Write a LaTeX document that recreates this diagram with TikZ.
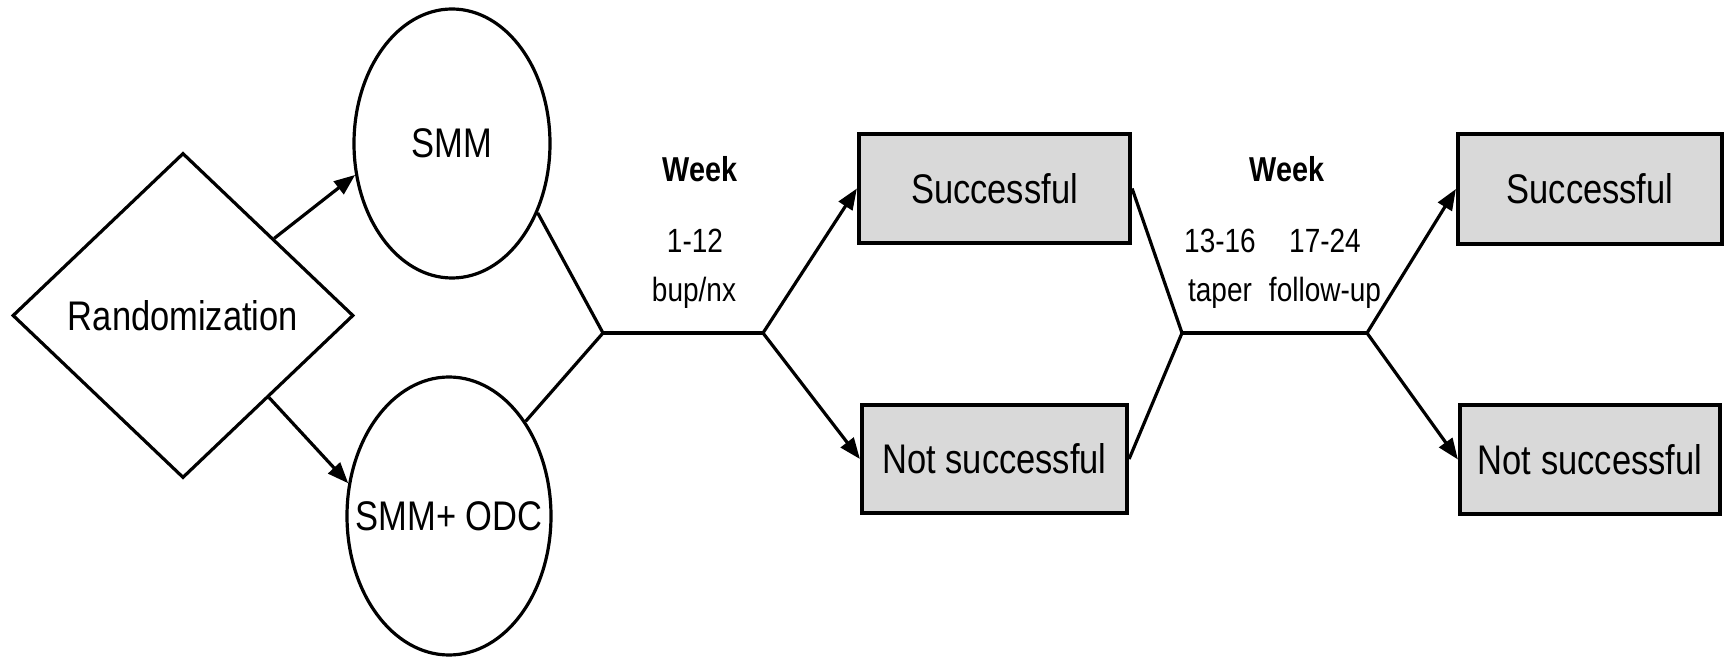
\documentclass[tikz,border=0pt]{standalone}
\usepackage{fontspec}
\setmainfont{Liberation Sans}
\usetikzlibrary{shapes.geometric,arrows.meta,calc}
\definecolor{boxgray}{RGB}{217,217,217}
\newcommand{\vst}[1]{\scalebox{1}[1.2]{#1}}
\newcommand{\zw}[1]{\makebox[0pt]{\scalebox{1}[1.2]{#1}}}
\begin{document}
\begin{tikzpicture}[x=0.5pt,y=-0.5pt,
  big/.style={font=\fontsize{17.25}{20}\selectfont},
  small/.style={font=\fontsize{14}{16}\selectfont},
  weekstyle/.style={font=\fontsize{14.4}{16}\selectfont\bfseries},
  conn/.style={line width=1.6pt},
  arr/.style={conn,-{Triangle[length=10.5pt,width=8pt]}},
  ell/.style={draw,ellipse,line width=1.6pt,inner sep=0pt,big},
  box/.style={draw,rectangle,fill=boxgray,line width=2.1pt,inner sep=0pt,big},
]
\useasboundingbox (0,0) rectangle (1725,657);
\node[draw,diamond,line width=1.6pt,inner sep=0pt,minimum width=170.5pt,minimum height=162.5pt,big] (rand) at (183,315.5) {\zw{Randomization}};
\node[ell,minimum width=98pt,minimum height=134.5pt] (smm) at (452,143.5) {\zw{SMM}};
\node[ell,minimum width=102pt,minimum height=139pt] (odc) at (449,516) {\zw{SMM+ ODC}};
\node[box,minimum width=135.5pt,minimum height=54.5pt] (s1) at (994.5,188.5) {\vst{Successful}};
\node[box,minimum width=132.5pt,minimum height=54pt] (n1) at (994.5,459) {\vst{Not successful}};
\node[box,minimum width=132pt,minimum height=55pt] (s2) at (1590,189) {\vst{Successful}};
\node[box,minimum width=130pt,minimum height=54.5pt] (n2) at (1590,459.5) {\vst{Not successful}};
\coordinate (j1L) at (603,333);
\coordinate (j1R) at (763,333);
\coordinate (j2L) at (1182,333);
\coordinate (j2R) at (1367,333);
\node[weekstyle,anchor=base] (wk1) at (700,182) {\vst{Week}};
\node[small,anchor=base] (t112) at (695,253) {\vst{1-12}};
\node[small,anchor=base] (tbup) at (694,302) {\vst{bup/nx}};
\node[weekstyle,anchor=base] (wk2) at (1287,182) {\vst{Week}};
\node[small,anchor=base] (t1316) at (1220,253) {\vst{13-16}};
\node[small,anchor=base] (t1724) at (1325,253) {\vst{17-24}};
\node[small,anchor=base] (ttaper) at (1220,302) {\vst{taper}};
\node[small,anchor=base] (tfollow) at (1325,302) {\vst{follow-up}};
\draw[arr] ($(rand.north)!0.53!(rand.east)$) -- (smm.198);
\draw[arr] ($(rand.east)!0.5!(rand.south)$) -- (odc.162);
\draw[conn] (smm.-39.5) -- (j1L);
\draw[conn] (odc.51) -- (j1L);
\draw[conn] (j1L) -- (j1R);
\draw[arr] (j1R) -- (s1.west);
\draw[arr] (j1R) -- (n1.west);
\draw[conn] (s1.east) -- (j2L);
\draw[conn] (n1.east) -- (j2L);
\draw[conn] (j2L) -- (j2R);
\draw[arr] (j2R) -- (s2.west);
\draw[arr] (j2R) -- (n2.west);
\end{tikzpicture}
\end{document}
